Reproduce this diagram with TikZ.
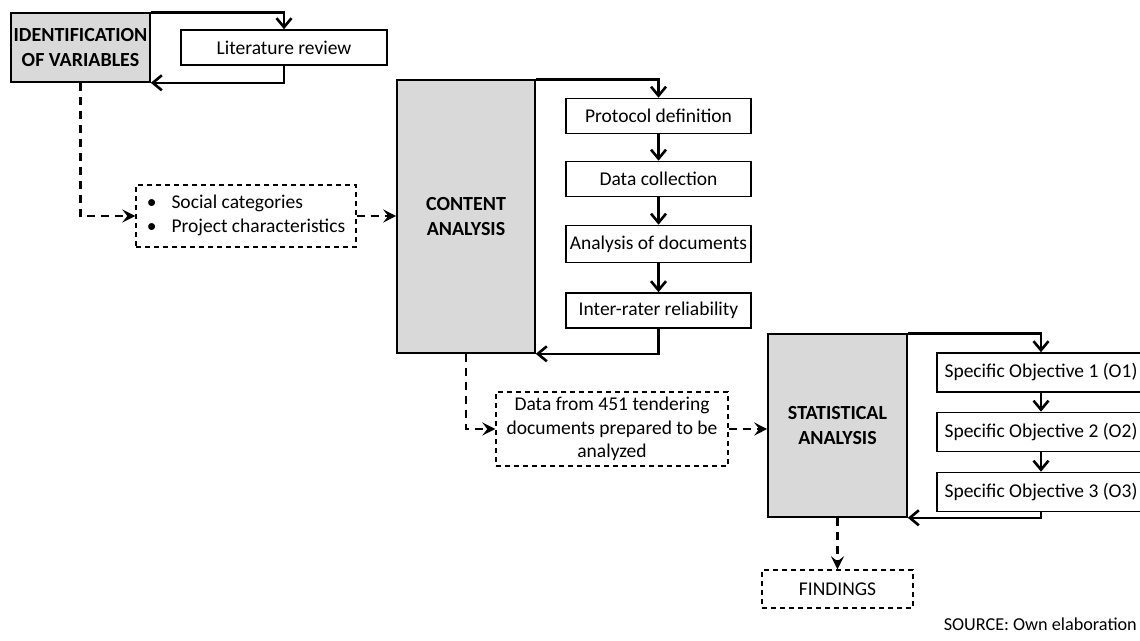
\documentclass[tikz,border=0pt]{standalone}
\usepackage{fontspec}
\setmainfont{Carlito}
\usetikzlibrary{arrows.meta}
\definecolor{boxgray}{HTML}{D9D9D9}
\tikzset{
  mainbox/.style={draw=black, line width=1.6pt, fill=boxgray, font=\fontsize{20}{24.5}\selectfont\bfseries, align=center, inner sep=0pt},
  subbox/.style={draw=black, line width=1.6pt, fill=white, font=\fontsize{19.5}{23}\selectfont, align=center, inner sep=0pt},
  dbox/.style={draw=black, line width=1.4pt, dash pattern=on 5pt off 4pt, fill=white, font=\fontsize{19.5}{23.5}\selectfont, align=center, inner sep=0pt},
  loopar/.style={line width=2.6pt, -{Straight Barb[length=9pt,width=15pt]}},
  chainar/.style={line width=2.6pt, -{Straight Barb[length=9pt,width=15pt]}},
  dconn/.style={line width=2.2pt, dash pattern=on 8pt off 6pt, -{Stealth[length=13pt,width=13pt,inset=5pt]}},
}
\begin{document}
\begin{tikzpicture}[x=1pt,y=-1pt]
\useasboundingbox (0,0) rectangle (1140,640);
\clip (0,0) rectangle (1140,640);
\fill[white] (0,0) rectangle (1140,640);

% nodes
\node[mainbox, minimum width=139pt, minimum height=69pt] (ident) at (80.5,47.5) {IDENTIFICATION\\OF VARIABLES};
\node[subbox, minimum width=206pt, minimum height=35pt] (lit) at (284,47.5) {Literature review};

\node[dbox, minimum width=220pt, minimum height=62pt] (social) at (246,216)
  {\begin{tabular}{@{}l@{\hspace{15pt}}l@{}}•&Social categories\\•&Project characteristics\end{tabular}};

\node[mainbox, minimum width=138pt, minimum height=273pt] (content) at (466,216.5) {CONTENT\\ANALYSIS};
\node[subbox, minimum width=185pt, minimum height=35pt] (proto) at (658.5,116) {Protocol definition};
\node[subbox, minimum width=185pt, minimum height=35pt] (datac) at (658.5,179) {Data collection};
\node[subbox, minimum width=185pt, minimum height=37pt] (anal) at (658.5,244) {Analysis of documents};
\node[subbox, minimum width=185pt, minimum height=35pt] (inter) at (658.5,310.5) {Inter-rater reliability};

\node[dbox, minimum width=232pt, minimum height=74pt] (data) at (612,429)
  {Data from 451 tendering\\documents prepared to be\\analyzed};

\node[mainbox, minimum width=139pt, minimum height=183pt] (stat) at (837.5,425.5) {STATISTICAL\\ANALYSIS};
\node[subbox, minimum width=208pt, minimum height=39pt] (o1) at (1041,372.5) {Specific Objective 1 (O1)};
\node[subbox, minimum width=208pt, minimum height=39pt] (o2) at (1041,432) {Specific Objective 2 (O2)};
\node[subbox, minimum width=208pt, minimum height=39pt] (o3) at (1041,492) {Specific Objective 3 (O3)};

\node[dbox, minimum width=151pt, minimum height=38pt] (find) at (837.5,589) {FINDINGS};

\node[anchor=base east, font=\fontsize{18.2}{22}\selectfont, inner sep=0pt] (src) at (1137,630) {SOURCE: Own elaboration};

% connectors
\draw[loopar] (ident.north east) -| (lit.north);
\draw[loopar] (lit.south) |- (ident.south east);
\draw[dconn] (ident.south) |- (social.west);
\draw[dconn] (social.east) -- (social.east -| content.west);

\draw[loopar] (content.north east) -| (proto.north);
\draw[chainar] (proto) -- (datac);
\draw[chainar] (datac) -- (anal);
\draw[chainar] (anal) -- (inter);
\draw[loopar] (inter.south) |- (content.south east);

\draw[dconn] (content.south) |- (data.west);
\draw[dconn] (data.east) -- (data.east -| stat.west);

\draw[loopar] (stat.north east) -| (o1.north);
\draw[chainar] (o1) -- (o2);
\draw[chainar] (o2) -- (o3);
\draw[loopar] (o3.south) |- (stat.south east);

\draw[dconn] (stat.south) -- (find.north);
\end{tikzpicture}
\end{document}
